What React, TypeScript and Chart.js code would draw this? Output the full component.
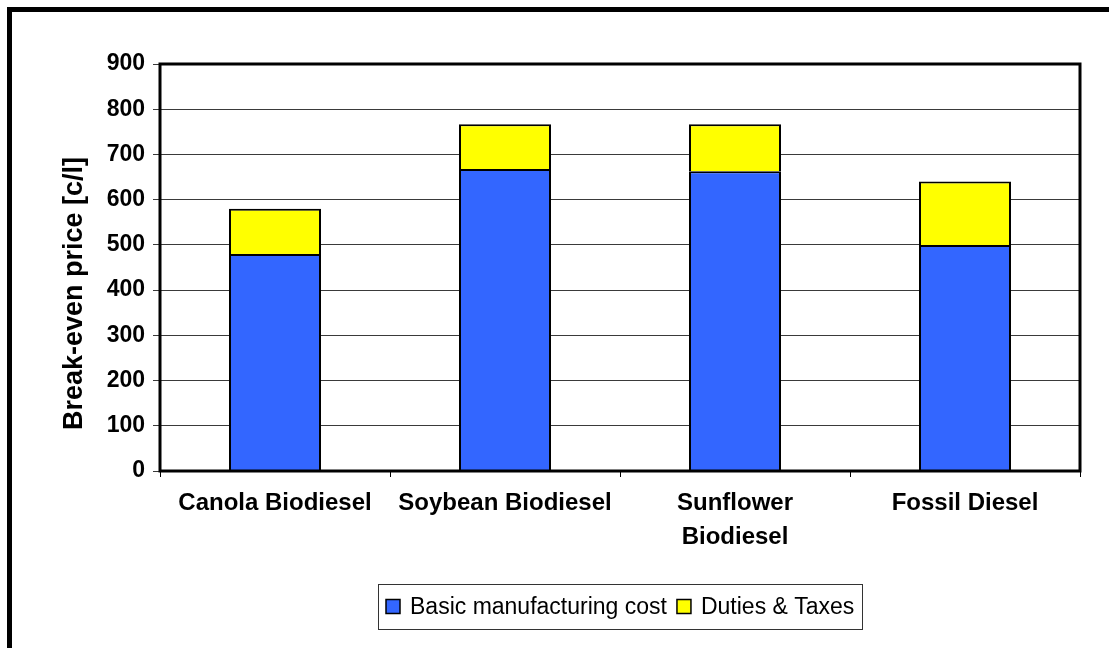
import React, { useEffect, useRef } from "react";
import { Chart, registerables } from "chart.js";

Chart.register(...registerables);

// Fuel categories (the sunflower label wraps onto two lines)
const categories: (string | string[])[] = [
  "Canola Biodiesel",
  "Soybean Biodiesel",
  ["Sunflower", "Biodiesel"],
  "Fossil Diesel",
];

// Break-even price components, c/l
const manufacturingCost = [480, 668, 663, 500];
const dutiesAndTaxes = [100, 99, 104, 140];

const seriesLabels = ["Basic manufacturing cost", "Duties & Taxes"];
const seriesColors = ["#3366FF", "#FFFF00"];

const yTicks = { min: 0, max: 900, step: 100 };
const yTitle = "Break-even price [c/l]";

const FONT = "'Liberation Sans', Arial, Helvetica, sans-serif";

// Thick black frame around the plotting area
const plotFrame = {
  id: "plotFrame",
  afterDraw(chart: any) {
    const { ctx, chartArea } = chart;
    ctx.save();
    ctx.strokeStyle = "#000";
    ctx.lineWidth = 3;
    ctx.strokeRect(
      chartArea.left,
      chartArea.top,
      chartArea.right - chartArea.left,
      chartArea.bottom - chartArea.top
    );
    ctx.restore();
  },
};

// Rotated value-axis title
const axisTitle = {
  id: "axisTitle",
  afterDraw(chart: any) {
    const { ctx, chartArea } = chart;
    const cy = (chartArea.top + chartArea.bottom) / 2 + 26;
    ctx.save();
    ctx.translate(82, cy);
    ctx.rotate(-Math.PI / 2);
    ctx.font = `bold 27px ${FONT}`;
    ctx.fillStyle = "#000";
    ctx.textAlign = "center";
    ctx.textBaseline = "alphabetic";
    ctx.fillText(yTitle, 0, 0);
    ctx.restore();
  },
};

// Boxed legend centred under the plot
const boxedLegend = {
  id: "boxedLegend",
  afterDraw(chart: any) {
    const { ctx, chartArea } = chart;
    const datasets = chart.data.datasets;
    ctx.save();
    ctx.font = `23px ${FONT}`;
    const marker = 14;
    const gap = 10;
    const pad = 8;
    const widths = datasets.map((d: any) => ctx.measureText(d.label).width);
    let total = pad * 2;
    widths.forEach((w: number, i: number) => {
      total += marker + gap + w + (i < widths.length - 1 ? gap : 0);
    });
    total = Math.round(total);
    const boxH = 45;
    const cx = (chartArea.left + chartArea.right) / 2;
    const left = Math.round(cx - total / 2);
    const top = chartArea.bottom + 113;
    ctx.fillStyle = "#fff";
    ctx.fillRect(left, top, total, boxH);
    ctx.strokeStyle = "#333";
    ctx.lineWidth = 1;
    ctx.strokeRect(left + 0.5, top + 0.5, total, boxH);
    const midY = top + boxH / 2;
    let x = left + pad;
    datasets.forEach((d: any, i: number) => {
      ctx.fillStyle = d.backgroundColor;
      ctx.fillRect(x, midY - marker / 2, marker, marker);
      ctx.strokeStyle = "#000";
      ctx.lineWidth = 1.5;
      ctx.strokeRect(x, midY - marker / 2, marker, marker);
      x += marker + gap;
      ctx.fillStyle = "#000";
      ctx.textAlign = "left";
      ctx.textBaseline = "middle";
      ctx.fillText(d.label, x, midY + 1);
      x += widths[i] + gap;
    });
    ctx.restore();
  },
};

export default function App() {
  const canvasRef = useRef<HTMLCanvasElement | null>(null);

  useEffect(() => {
    if (!canvasRef.current) return;
    const chart = new Chart(canvasRef.current, {
      type: "bar",
      data: {
        labels: categories,
        datasets: [
          {
            label: seriesLabels[0],
            data: manufacturingCost,
            backgroundColor: seriesColors[0],
            borderColor: "#000",
            borderWidth: 2,
            categoryPercentage: 1,
            barPercentage: 0.4,
          },
          {
            label: seriesLabels[1],
            data: dutiesAndTaxes,
            backgroundColor: seriesColors[1],
            borderColor: "#000",
            borderWidth: 2,
            categoryPercentage: 1,
            barPercentage: 0.4,
          },
        ],
      },
      options: {
        responsive: false,
        animation: false,
        layout: { padding: { left: 0, top: 64, right: 29, bottom: 0 } },
        plugins: {
          legend: { display: false },
          tooltip: { enabled: false },
          title: { display: false },
        },
        scales: {
          x: {
            stacked: true,
            afterFit(scale: any) {
              scale.height = 177;
            },
            grid: {
              display: true,
              drawOnChartArea: false,
              drawTicks: true,
              tickLength: 6,
              color: "#000",
              offset: true,
            },
            border: { display: false },
            ticks: {
              color: "#000",
              padding: 9,
              maxRotation: 0,
              autoSkip: false,
              font: { family: FONT, size: 24, weight: "bold", lineHeight: "34px" },
            },
          },
          y: {
            stacked: true,
            min: yTicks.min,
            max: yTicks.max,
            afterFit(scale: any) {
              scale.width = 160;
            },
            grid: {
              color: "#3a3a3a",
              lineWidth: 1,
              tickLength: 7,
            },
            border: { display: false },
            ticks: {
              stepSize: yTicks.step,
              color: "#000",
              padding: 8,
              font: { family: FONT, size: 23, weight: "bold" },
            },
          },
        },
      },
      plugins: [plotFrame, axisTitle, boxedLegend],
    } as any);
    return () => chart.destroy();
  }, []);

  return (
    <div
      style={{
        position: "fixed",
        left: 0,
        top: 0,
        width: 1109,
        height: 648,
        overflow: "hidden",
        background: "#fff",
      }}
    >
      <div
        style={{
          position: "absolute",
          left: 7,
          top: 7,
          width: 1300,
          height: 900,
          borderLeft: "5px solid #000",
          borderTop: "5px solid #000",
        }}
      />
      <canvas
        ref={canvasRef}
        width={1109}
        height={648}
        style={{ position: "absolute", left: 0, top: 0, width: 1109, height: 648 }}
      />
    </div>
  );
}
